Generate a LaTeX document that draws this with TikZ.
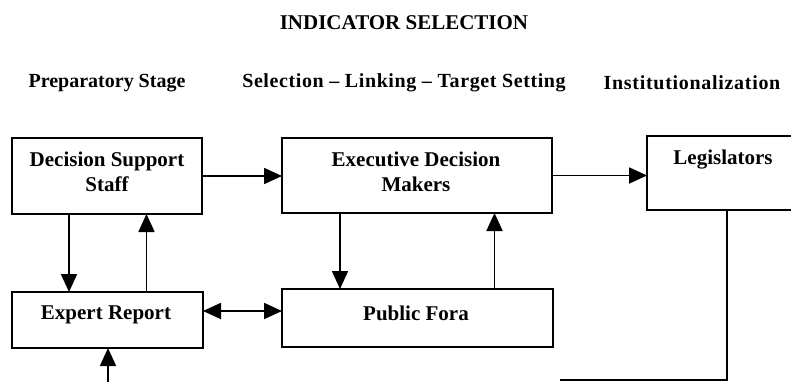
\documentclass[tikz,border=0pt]{standalone}
\usepackage{fontspec}
\setmainfont{Liberation Serif}
\usetikzlibrary{arrows.meta}
\begin{document}
\begin{tikzpicture}[x=1pt,y=-1pt,
  box/.style={draw, line width=1.8pt, inner sep=0pt, outer sep=0pt},
  lbl/.style={font=\bfseries\fontsize{21}{25}\selectfont, align=center, inner sep=0pt},
  hdr/.style={font=\bfseries\fontsize{20}{24}\selectfont, inner sep=0pt},
  ttl/.style={font=\bfseries\fontsize{21}{25}\selectfont, inner sep=0pt},
  arr/.style={line width=1.8pt, -{Triangle[length=18pt,width=16pt]}},
  link/.style={line width=1.8pt}]
\useasboundingbox (0,0) rectangle (791,382);
\fill[white] (0,0) rectangle (791,382);
\clip (0,0) rectangle (791,382);

% headings
\node[ttl] (title) at (404,23) {INDICATOR SELECTION};
\node[hdr] (stage1) at (107,83) {Preparatory Stage};
\node[hdr] (stage2) at (404,83) {\addfontfeature{LetterSpace=3}Selection -- Linking -- Target Setting};
\node[hdr] (stage3) at (692,83) {\addfontfeature{LetterSpace=3.5}Institutionalization};

% boxes
\node[box, minimum width=190pt, minimum height=76pt] (dss) at (107,176) {};
\node[box, minimum width=270pt, minimum height=75pt] (edm) at (417,175.5) {};
\node[box, minimum width=153pt, minimum height=74pt] (leg) at (723.5,173) {};
\node[box, minimum width=191pt, minimum height=56pt] (er) at (107.5,320) {};
\node[box, minimum width=271pt, minimum height=58pt] (pf) at (417.5,318) {};

% box texts
\node[lbl] (dssT) at (107,172) {Decision Support\\Staff};
\node[lbl] (edmT) at (416,172) {Executive Decision\\Makers};
\node[lbl] (legT) at (723,160) {Legislators};
\node[lbl] (erT) at (106,315) {Expert Report};
\node[lbl] (pfT) at (416,313) {Public Fora};

% free ends of the feedback line
\coordinate (tail) at (560,380);
\coordinate (feed) at (108,386);

% connectors
\draw[arr] (dss.east) -- (dss.east -| edm.west);
\draw[arr] (edm.east) -- (edm.east -| leg.west);
\draw[arr] ([xshift=-38pt]dss.south) -- ([xshift=-38pt]dss.south |- er.north);
\draw[arr] ([xshift=39pt]er.north) -- ([xshift=39pt]er.north |- dss.south);
\draw[arr] ([xshift=-77pt]edm.south) -- ([xshift=-77pt]edm.south |- pf.north);
\draw[arr] ([xshift=77pt]pf.north) -- ([xshift=77pt]pf.north |- edm.south);
\draw[line width=1.8pt, {Triangle[length=18pt,width=16pt]}-{Triangle[length=18pt,width=16pt]}]
  ([yshift=9pt]er.east) -- ([yshift=9pt]er.east -| pf.west);
\draw[link] ([xshift=3.5pt]leg.south) |- (tail);
\draw[arr] (feed) -- (feed |- er.south);
\end{tikzpicture}
\end{document}
